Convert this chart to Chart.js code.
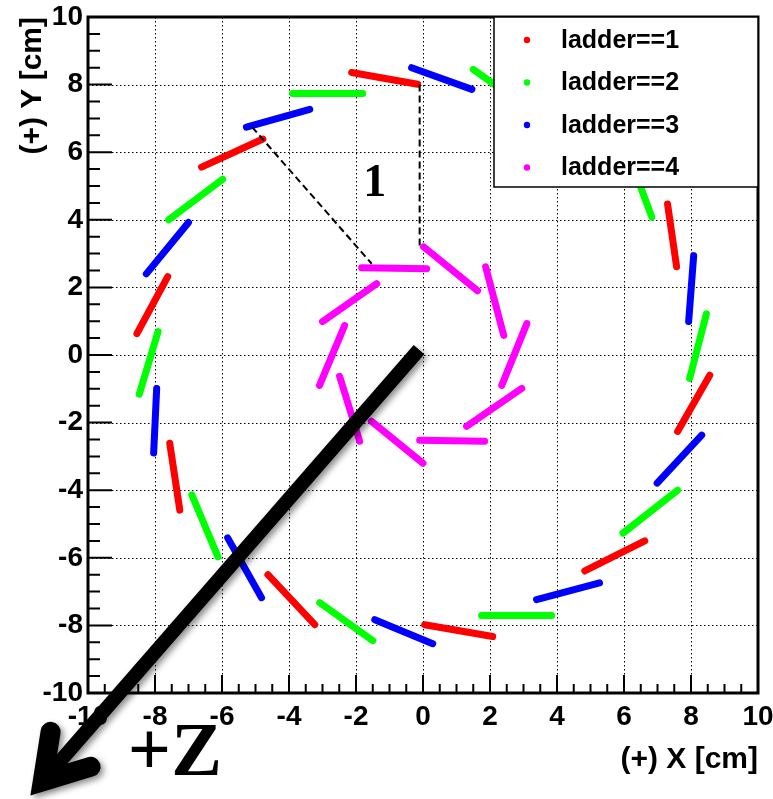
<!DOCTYPE html>
<html>
<head>
<meta charset="utf-8">
<title>ladder positions</title>
<script src="https://cdn.jsdelivr.net/npm/chart.js@4.4.0/dist/chart.umd.min.js"></script>
<style>
    html, body { margin: 0; padding: 0; background: #fff; }
</style>
</head>
<body>
<canvas id="ladderChart" width="773" height="799"></canvas>
<script>
// --- Data: ladder segments, each entry is [x0, y0, x1, y1] in cm ---
const ladder1 = [
    [-2.13, 8.36, -0.16, 8.01],
    [-6.61, 5.56, -4.78, 6.39],
    [-8.54, 0.63, -7.62, 2.32],
    [-7.56, -2.61, -7.26, -4.59],
    [-4.63, -6.50, -3.23, -7.98],
    [0.05, -7.98, 2.08, -8.33],
    [4.83, -6.39, 6.62, -5.50],
    [7.60, -2.26, 8.56, -0.60],
    [7.57, 2.61, 7.30, 4.47],
    [4.63, 6.50, 3.23, 7.98]   // behind the legend
];
const ladder2 = [
    [-3.89, 7.74, -1.80, 7.74],
    [-7.59, 4.00, -5.98, 5.20],
    [-8.47, -1.16, -7.91, 0.69],
    [-6.90, -4.14, -6.12, -5.97],
    [-3.08, -7.33, -1.50, -8.45],
    [1.75, -7.71, 3.84, -7.71],
    [5.97, -5.27, 7.60, -4.00],
    [7.96, -0.69, 8.46, 1.22],
    [6.83, 4.08, 6.12, 5.97],
    [1.50, 8.45, 3.08, 7.33]
];
const ladder3 = [
    [-5.27, 6.74, -3.38, 7.27],
    [-8.26, 2.40, -7.00, 3.92],
    [-7.95, -0.99, -8.04, -2.90],
    [-5.83, -5.41, -4.82, -7.18],
    [-1.44, -7.83, 0.29, -8.54],
    [3.39, -7.24, 5.27, -6.74],
    [6.99, -3.79, 8.32, -2.37],
    [7.93, 0.99, 8.08, 2.94],
    [5.83, 5.41, 4.82, 7.18],
    [-0.34, 8.50, 1.46, 7.86]
];
const ladder4 = [
    [-1.83, 2.58, 0.11, 2.55],
    [0.02, 3.20, 1.63, 1.90],
    [1.87, 2.61, 2.41, 0.58],
    [3.10, 0.93, 2.35, -0.90],
    [2.95, -0.99, 1.30, -2.11],
    [1.84, -2.55, -0.10, -2.52],
    [0.00, -3.20, -1.54, -1.96],
    [-1.89, -2.55, -2.49, -0.63],
    [-3.09, -0.90, -2.34, 0.87],
    [-3.00, 0.99, -1.38, 2.11]
];

const seriesLabels = ['ladder==1', 'ladder==2', 'ladder==3', 'ladder==4'];
const seriesColors = ['#ff0000', '#00ff00', '#0000ff', '#ff00ff'];

const majorTicks = [-10, -8, -6, -4, -2, 0, 2, 4, 6, 8, 10];
const axisMin = -10, axisMax = 10, minorStep = 0.5;

// annotation lines (cm)
const dashedLines = [
    [-5.10, 6.74, -1.53, 2.70],
    [-0.10, 8.00, -0.10, 3.20]
];
const arrowFrom = [-0.12, 0.16];
const arrowTo = [-11.35, -12.61];
const label1Pos = [-1.44, 4.70];
const zLabelPos = [-8.81, -12.43];

// Segments ko null ke saath jodna, taaki line toot jaaye
function toPoints(segs) {
    const pts = [];
    segs.forEach(s => {
        pts.push({ x: s[0], y: s[1] }, { x: s[2], y: s[3] }, { x: null, y: null });
    });
    return pts;
}

const tickFont = { family: 'Liberation Sans, Arial, sans-serif', size: 28, weight: 'bold' };
const titleFont = { family: 'Liberation Sans, Arial, sans-serif', size: 30, weight: 'bold' };

// --- Plugin: ROOT style frame, dotted grid, inner ticks ---
const frameGrid = {
    id: 'frameGrid',
    beforeDatasetsDraw(chart) {
        const { ctx, chartArea: a, scales: { x, y } } = chart;
        ctx.save();
        ctx.strokeStyle = '#000';
        ctx.lineWidth = 1;
        ctx.setLineDash([1.5, 2.5]);
        majorTicks.forEach(v => {
            if (v === axisMin || v === axisMax) return;
            const px = Math.round(x.getPixelForValue(v)) + 0.5;
            const py = Math.round(y.getPixelForValue(v)) + 0.5;
            ctx.beginPath(); ctx.moveTo(px, a.top); ctx.lineTo(px, a.bottom); ctx.stroke();
            ctx.beginPath(); ctx.moveTo(a.left, py); ctx.lineTo(a.right, py); ctx.stroke();
        });
        ctx.setLineDash([]);

        // ticks
        ctx.lineWidth = 2;
        for (let v = axisMin; v <= axisMax + 1e-9; v += minorStep) {
            const major = majorTicks.includes(Math.round(v * 10) / 10);
            const px = x.getPixelForValue(v);
            const py = y.getPixelForValue(v);
            ctx.beginPath();
            ctx.moveTo(px, a.bottom); ctx.lineTo(px, a.bottom - (major ? 18 : 9));
            ctx.moveTo(a.left, py); ctx.lineTo(a.left + (major ? 24 : 12), py);
            ctx.stroke();
        }

        // frame
        ctx.lineWidth = 3;
        ctx.strokeRect(a.left, a.top, a.right - a.left, a.bottom - a.top);
        ctx.restore();
    }
};

// --- Plugin: dashed lines, labels, +Z arrow, legend box ---
const overlay = {
    id: 'overlay',
    afterDraw(chart) {
        const { ctx, scales: { x, y } } = chart;
        const P = (vx, vy) => [x.getPixelForValue(vx), y.getPixelForValue(vy)];
        ctx.save();

        // dashed guide lines
        ctx.strokeStyle = '#000';
        ctx.lineWidth = 2;
        ctx.setLineDash([7, 4]);
        dashedLines.forEach(l => {
            const p0 = P(l[0], l[1]), p1 = P(l[2], l[3]);
            ctx.beginPath(); ctx.moveTo(p0[0], p0[1]); ctx.lineTo(p1[0], p1[1]); ctx.stroke();
        });
        ctx.setLineDash([]);

        // "1"
        ctx.fillStyle = '#000';
        ctx.font = 'bold 46px "Liberation Serif", "Times New Roman", serif';
        ctx.textAlign = 'center';
        ctx.textBaseline = 'alphabetic';
        const l1 = P(label1Pos[0], label1Pos[1]);
        ctx.fillText('1', l1[0], l1[1]);

        // +Z arrow
        const s = P(arrowFrom[0], arrowFrom[1]);
        const t = P(arrowTo[0], arrowTo[1]);
        const ang = Math.atan2(s[1] - t[1], s[0] - t[0]);
        const wing = 0.56, wingLen = 50;
        ctx.shadowColor = 'rgba(0,0,0,0.45)';
        ctx.shadowBlur = 6;
        ctx.shadowOffsetX = 3;
        ctx.shadowOffsetY = 3;
        ctx.strokeStyle = '#000';
        ctx.lineWidth = 14;
        ctx.lineCap = 'butt';
        ctx.beginPath(); ctx.moveTo(s[0], s[1]); ctx.lineTo(t[0], t[1]); ctx.stroke();
        ctx.lineWidth = 20;
        ctx.lineCap = 'round';
        ctx.lineJoin = 'miter';
        ctx.beginPath();
        ctx.moveTo(t[0] + wingLen * Math.cos(ang - wing), t[1] + wingLen * Math.sin(ang - wing));
        ctx.lineTo(t[0], t[1]);
        ctx.lineTo(t[0] + wingLen * Math.cos(ang + wing), t[1] + wingLen * Math.sin(ang + wing));
        ctx.stroke();
        ctx.shadowColor = 'transparent';

        // "+Z"
        ctx.font = 'bold 76px "Liberation Serif", "Times New Roman", serif';
        ctx.textAlign = 'left';
        const zp = P(zLabelPos[0], zLabelPos[1]);
        ctx.fillText('+Z', zp[0], zp[1]);

        // legend
        const a = chart.chartArea;
        const lx = 494, ly = a.top, lw = a.right - lx, lh = 170;
        ctx.fillStyle = '#fff';
        ctx.fillRect(lx, ly, lw, lh);
        ctx.strokeStyle = '#000';
        ctx.lineWidth = 1.5;
        ctx.strokeRect(lx, ly, lw, lh);
        ctx.font = 'bold 25px "Liberation Sans", Arial, sans-serif';
        ctx.textBaseline = 'middle';
        seriesLabels.forEach((lab, i) => {
            const ry = ly + 23 + i * 42.5;
            ctx.fillStyle = seriesColors[i];
            ctx.beginPath(); ctx.arc(lx + 33, ry, 3.2, 0, Math.PI * 2); ctx.fill();
            ctx.fillStyle = '#000';
            ctx.fillText(lab, lx + 67, ry + 1);
        });

        ctx.restore();
    }
};

const ladders = [ladder1, ladder2, ladder3, ladder4];

new Chart(document.getElementById('ladderChart'), {
    type: 'scatter',
    data: {
        datasets: ladders.map((segs, i) => ({
            label: seriesLabels[i],
            data: toPoints(segs),
            showLine: true,
            spanGaps: false,
            borderColor: seriesColors[i],
            backgroundColor: seriesColors[i],
            borderWidth: 7,
            borderCapStyle: 'round',
            pointRadius: 0,
            pointHoverRadius: 0
        }))
    },
    options: {
        responsive: false,
        animation: false,
        layout: { padding: { top: 17, right: 15, left: 0, bottom: 0 } },
        plugins: { legend: { display: false }, tooltip: { enabled: false } },
        scales: {
            x: {
                type: 'linear',
                min: axisMin, max: axisMax,
                grid: { display: false, drawTicks: false },
                border: { display: false },
                afterBuildTicks: s => { s.ticks = majorTicks.map(v => ({ value: v })); },
                afterFit: s => { s.height = 106; s.paddingLeft = 0; s.paddingRight = 0; },
                ticks: { color: '#000', font: tickFont, padding: 7, maxRotation: 0, autoSkip: false },
                title: {
                    display: true, text: '(+) X [cm]', align: 'end', color: '#000',
                    font: titleFont, padding: { top: 0, bottom: 21 }
                }
            },
            y: {
                type: 'linear',
                min: axisMin, max: axisMax,
                grid: { display: false, drawTicks: false },
                border: { display: false },
                afterBuildTicks: s => { s.ticks = majorTicks.map(v => ({ value: v })); },
                afterFit: s => { s.width = 88; s.paddingTop = 0; s.paddingBottom = 0; },
                ticks: { color: '#000', font: tickFont, padding: 5, autoSkip: false },
                title: {
                    display: true, text: '(+) Y [cm]', align: 'end', color: '#000',
                    font: titleFont, padding: { top: 15, bottom: 0 }
                }
            }
        }
    },
    plugins: [frameGrid, overlay]
});
</script>
</body>
</html>
